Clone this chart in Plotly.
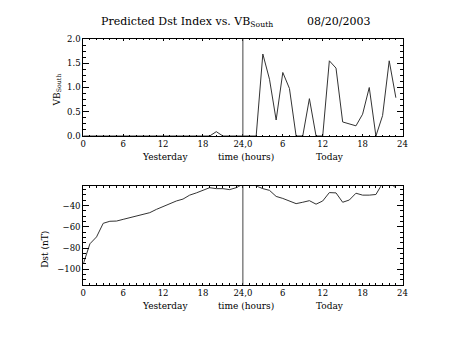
import plotly.graph_objects as go

# hours: 0..23 yesterday -> 0..23, today -> 24..47
hours_yesterday = list(range(24))
hours_today = list(range(24, 48))

vbs_yesterday = [0, 0, 0, 0, 0, 0, 0, 0, 0, 0, 0, 0, 0, 0, 0, 0, 0, 0, 0, 0, 0.09, 0, 0, 0]
vbs_today = [0, 0, 0, 1.69, 1.17, 0.33, 1.31, 0.98, 0, 0, 0.77, 0, 0, 1.55, 1.40, 0.29, 0.25, 0.21,
             0.45, 1.00, 0, 0.42, 1.55, 0.79]

dst_yesterday = [-95, -76, -69.5, -56.7, -54.8, -54.6, -53, -51.5, -49.7, -48.2, -46.7, -43.6,
                 -40.9, -38.2, -35.7, -33.9, -30.2, -28.1, -25.7, -23.2, -24.1, -24.1, -25, -23.2]
dst_today = [-20, -19, -21.5, -24.1, -25.7, -31.4, -33.3, -35.7, -38.2, -36.9, -35.4, -38.7,
             -35.7, -27.8, -28.1, -36.9, -34.8, -28.4, -30.2, -30.2, -29.6, -19, -19, -23.2]

xtick_vals = [0, 6, 12, 18, 24, 30, 36, 42, 48]
xtick_text = ["0", "6", "12", "18", "24,0", "6", "12", "18", "24"]

title_text = "Predicted Dst Index vs. VB<sub>South</sub>"
date_text = "08/20/2003"

W, H = 453, 340
FONT = "DejaVu Serif"
TICKFONT = dict(family=FONT, size=8.5, color="black")

x0, x1 = 81.7 / W, 406.7 / W
top_dom = [(H - 135) / H, (H - 35) / H]
bot_dom = [(H - 288.3) / H, (H - 186.7) / H]

fig = go.Figure()
line_style = dict(color="#333333", width=1)
fig.add_trace(go.Scatter(x=hours_yesterday + hours_today, y=vbs_yesterday + vbs_today,
                         mode="lines", line=line_style, xaxis="x", yaxis="y", showlegend=False))
fig.add_trace(go.Scatter(x=hours_yesterday + hours_today, y=dst_yesterday + dst_today,
                         mode="lines", line=line_style, xaxis="x2", yaxis="y2", showlegend=False))

xcommon = dict(range=[0, 48], tickmode="array", tickvals=xtick_vals, ticktext=xtick_text,
               ticks="inside", ticklen=2, tickwidth=1, tickcolor="black",
               minor=dict(dtick=1, tick0=0, ticks="inside", ticklen=1.5, tickcolor="black", showgrid=False),
               showline=True, linecolor="black", linewidth=1, mirror="allticks",
               showgrid=False, zeroline=False, tickfont=TICKFONT, domain=[x0, x1])

fig.update_layout(
    width=W, height=H, margin=dict(l=0, r=0, t=0, b=0),
    paper_bgcolor="white", plot_bgcolor="white",
    xaxis=dict(xcommon, anchor="y"),
    xaxis2=dict(xcommon, anchor="y2"),
    yaxis=dict(range=[0, 2.0], dtick=0.5, tick0=0, tickformat=".1f", domain=top_dom, anchor="x",
               ticks="inside", ticklen=6, tickcolor="black",
               minor=dict(dtick=0.125, ticks="inside", ticklen=3, tickcolor="black", showgrid=False),
               showline=True, linecolor="black", linewidth=1, mirror="allticks",
               showgrid=False, zeroline=False, tickfont=TICKFONT),
    yaxis2=dict(range=[-114.6, -21.8], dtick=20, tick0=0, domain=bot_dom, anchor="x2",
                ticks="inside", ticklen=6, tickcolor="black",
                minor=dict(dtick=5, ticks="inside", ticklen=3, tickcolor="black", showgrid=False),
                showline=True, linecolor="black", linewidth=1, mirror="allticks",
                showgrid=False, zeroline=False, tickfont=TICKFONT),
)

# divider at 24 hours in both panels
for xr, yr in (("x", "y domain"), ("x2", "y2 domain")):
    fig.add_shape(type="line", xref=xr, yref=yr, x0=24, x1=24, y0=0, y1=1,
                  line=dict(color="#444444", width=1))

def ann(text, xpx, ypx, size=9, angle=0, xanchor="center"):
    fig.add_annotation(text=text, x=xpx / W, y=1 - ypx / H, xref="paper", yref="paper",
                       showarrow=False, xanchor=xanchor, yanchor="middle", textangle=angle,
                       font=dict(family=FONT, size=size, color="black"))

ann(title_text, 98, 17, size=11, xanchor="left")
ann(date_text, 307, 17, size=11, xanchor="left")
for ypx in (157, 310):
    ann("Yesterday", 165, ypx)
    ann("time (hours)", 247.5, ypx)
    ann("Today", 333, ypx)
ann("VB<sub>South</sub>", 55, 88, angle=-90)
ann("Dst (nT)", 42, 252, angle=-90)

fig.write_html("out.html")
